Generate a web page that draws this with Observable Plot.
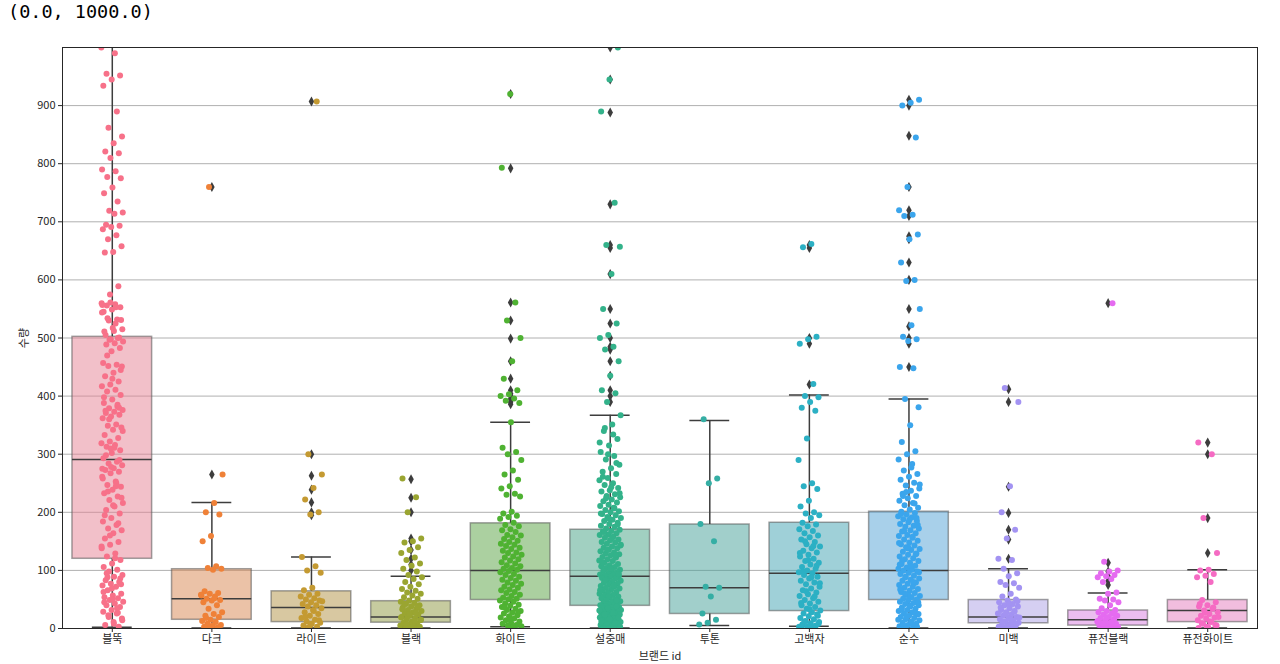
<!DOCTYPE html>
<html><head><meta charset="utf-8">
<script src="https://cdn.jsdelivr.net/npm/d3@7"></script>
<script src="https://cdn.jsdelivr.net/npm/@observablehq/plot@0.6"></script>
<style>
body{margin:0;background:#fff;}
#chart{position:absolute;left:0;top:0;}
#title{position:absolute;left:8px;top:1px;font-family:"DejaVu Sans Mono",monospace;font-size:18.5px;color:#000;white-space:pre;}
</style></head><body>
<div id="chart"></div>
<div id="title">(0.0, 1000.0)</div>
<script>
// categories
const brands = ["블뚝","다크","라이트","블랙","화이트","설중매","투톤","고백자","순수","미백","퓨전블랙","퓨전화이트"];
const colors = ["#f77189","#ef8138","#c49a32","#9aa531","#4fb232","#33b28a","#35aea4","#2cb0c4","#3ba5ec","#a393f2","#e56bf0","#f56bc3"];
// box statistics
const q1s       = [120, 15, 11, 10, 49, 39, 25, 30, 49, 9, 5, 11];
const medians   = [291, 51, 36, 20, 100, 90, 70, 95, 100, 20, 15, 31];
const q3s       = [502, 102, 64, 47, 181, 170, 179, 182, 201, 49, 31, 49];
const whiskLow  = [2, 1, 1, 1, 3, 1, 5, 4, 1, 1, 1, 1];
const whiskHigh = [1020, 217, 123, 90, 355, 367, 358, 402, 395, 103, 61, 101];
// outliers (fliers)
const outliers = [
  [],
  [265, 760],
  [195, 200, 217, 239, 263, 300, 907],
  [100, 110, 120, 135, 150, 155, 200, 225, 257],
  [386, 390, 395, 400, 404, 410, 430, 460, 499, 530, 561, 792, 920],
  [390, 400, 410, 435, 460, 480, 485, 500, 525, 550, 610, 655, 660, 730, 888, 945, 1000],
  [],
  [420, 490, 500, 655, 660],
  [450, 490, 500, 520, 550, 600, 630, 670, 675, 710, 720, 760, 848, 900, 910],
  [120, 153, 170, 199, 244, 390, 412],
  [75, 82, 90, 98, 113, 560],
  [130, 190, 300, 320]
];
// strip points
const points = [
  [1000, 990, 955, 952, 945, 934, 890, 862, 847, 835, 821, 818, 810, 790, 787, 777, 775, 759, 749, 735, 719, 716, 714, 695, 693, 691, 687, 677, 670, 658, 648, 647, 589, 575, 560, 558, 556, 553, 549, 545, 532, 530, 515, 512, 505, 501, 498,
   557, 553, 534, 531, 517, 511, 500, 497, 494, 491, 489, 483, 477, 457, 454, 452, 451, 440, 434, 425, 420, 417, 411, 408, 402, 394, 388, 382, 379, 376, 373, 371, 368, 365, 362, 351, 349, 346, 342, 333, 328, 322, 319, 316, 313, 307, 302, 293, 287, 284, 281, 276, 273, 270, 267, 261, 253, 247, 244, 239, 233, 227, 221, 216, 210, 204, 198, 190, 184, 178, 172, 169, 164, 155, 149, 144, 138, 129, 124, 118, 112, 106, 101, 98, 92, 89, 83, 80, 77, 74, 72, 66, 60, 57, 54, 52, 49, 46, 43, 40, 37, 32, 29, 26, 23, 17, 11, 6, 3,
   561, 544, 525, 470, 445, 430, 398, 385, 360, 340, 311, 298, 290, 278, 258, 250, 236, 225, 212, 195, 181, 160, 141, 121, 95, 86, 69, 63, 35, 20, 14, 8, 375, 380, 310, 275, 245, 88, 76, 50, 45, 27],
  [760, 265, 216, 200, 196, 159, 150, 107, 104, 103, 101, 64, 61, 60, 57, 55, 51, 49, 48, 45, 40, 34, 28, 25, 22, 20, 15, 13, 11, 8, 6, 5, 3, 2, 1, 58, 52, 18],
  [907, 300, 265, 242, 222, 200, 196, 123, 107, 100, 96, 70, 66, 60, 58, 55, 52, 50, 48, 45, 42, 40, 38, 35, 32, 28, 25, 22, 18, 15, 12, 10, 8, 5, 3, 2, 47, 30, 20, 14, 6],
  [258, 226, 200, 155, 150, 148, 140, 135, 130, 122, 118, 112, 108, 103, 98, 92, 88, 85, 80, 76, 72, 68, 65, 62, 60, 57, 54, 51, 48, 46, 44, 42, 40, 38, 36, 34, 32, 30, 28, 26, 24, 22, 20, 18, 16, 14, 12, 10, 8, 6, 5, 4, 3, 2, 1, 33, 27, 21, 15, 9, 43, 37, 25, 19, 13, 7, 3, 2],
  [920, 793, 561, 530, 500, 460, 430, 410, 403, 400, 396, 392, 388,
   355, 311, 304, 300, 290, 272, 265, 256, 245, 241, 232, 230, 227, 201, 198, 194, 192, 189,
   182, 178, 176, 171, 169, 166, 161, 160, 157, 154, 151, 149, 146, 144, 142, 139, 137, 134, 131, 130, 127, 124, 122, 119, 117, 114, 112, 109, 107, 104, 103, 101, 99, 97, 94, 92, 89, 87, 84, 82, 79, 77, 75, 72, 70, 67, 66, 63, 61, 58, 56, 53, 51, 50,
   48, 46, 43, 41, 39, 37, 34, 32, 30, 27, 26, 23, 21, 19, 17, 14, 12, 10, 8, 6, 5, 4, 3, 36, 28, 16],
  [1000, 945, 890, 733, 660, 657, 610, 550, 525, 505, 500, 485, 480, 460, 435, 410, 405, 390,
   367, 351, 340, 326, 315, 304, 297, 291, 282, 276, 270, 266, 259, 255, 250, 247, 242, 238, 236, 231, 228, 226, 222, 219, 217, 213, 211, 208, 204, 202, 200, 197, 195, 192, 190, 187, 185, 182, 180, 177, 175, 172,
   170, 168, 167, 164, 162, 161, 158, 156, 153, 152, 149, 148, 146, 143, 141, 139, 138, 136, 133, 131, 129, 128, 126, 123, 122, 119, 117, 116, 113, 111, 109, 107, 106, 104, 101, 100, 99, 97, 95, 93, 92, 91, 90, 89, 87, 86, 84, 82, 81, 79, 77, 76, 73, 72, 70, 69, 67, 65, 63, 62, 60, 58, 57, 55, 53, 52, 50, 49, 47, 45, 44, 42, 41, 40,
   39, 38, 37, 36, 35, 34, 33, 32, 31, 30, 29, 28, 27, 26, 25, 24, 23, 22, 21, 20, 19, 18, 17, 16, 15, 14, 13, 12, 11, 10, 9, 8, 7, 6, 5, 4, 3, 2, 1,
   38, 35, 31, 27, 24, 19, 16, 12, 9, 6, 3, 2, 1, 48, 56, 66, 74, 83, 94, 103, 114, 127, 135, 144, 157, 166, 179, 189, 198, 207, 224, 233, 243, 261, 285, 300, 320, 334, 345],
  [360, 258, 250, 180, 150, 72, 70, 55, 26, 15, 10, 7],
  [662, 656, 502, 498, 490, 421, 400, 398, 390, 380, 375, 327, 290, 250, 245, 240, 220, 210, 200, 198, 195, 190,
   182, 179, 176, 171, 168, 164, 160, 157, 153, 149, 145, 141, 138, 134, 131, 127, 124, 120, 116, 113, 110, 106, 103, 100, 97, 95, 92, 89, 86, 82, 79, 76, 72, 69, 66, 62, 59, 56, 52, 49, 46, 43, 40, 37, 34, 31, 28, 26, 24, 21, 18, 16, 13, 11, 9, 7, 5, 4, 3, 2, 12, 22, 33, 44, 55, 64, 78, 88, 98, 108, 118, 130, 142, 150, 8, 6, 3],
  [910, 905, 900, 845, 760, 720, 712, 710, 678, 670, 630, 600, 598, 550, 522, 502, 498, 495, 450, 448,
   395, 381, 350, 321, 305, 300, 291, 283, 272, 266, 261, 256, 251, 246, 241, 237, 232, 228, 224, 220, 216, 212, 208, 205, 201,
   199, 196, 193, 191, 188, 185, 183, 180, 177, 175, 172, 169, 167, 164, 161, 159, 156, 153, 151, 148, 145, 143, 140, 137, 135, 132, 129, 127, 124, 121, 119, 116, 113, 111, 108, 105, 103, 101, 100, 98, 96, 94, 91, 89, 86, 84, 82, 79, 77, 75, 72, 70, 68, 65, 63, 61, 58, 56, 54, 51, 50,
   48, 46, 44, 42, 40, 38, 36, 34, 32, 30, 28, 26, 24, 22, 20, 18, 16, 14, 12, 10, 8, 6, 4, 2, 1,
   45, 39, 33, 27, 21, 15, 9, 5, 3, 57, 67, 78, 88, 97, 107, 117, 128, 138, 147, 158, 168, 178, 187, 197, 215, 235, 248, 277, 228, 190, 140, 110, 80, 60, 25],
  [414, 390, 245, 200, 170, 155, 120, 118, 103, 95, 90, 80, 78, 75, 70, 60, 55, 50, 48, 45, 42, 40, 38, 35, 32, 30, 28, 26, 24, 22, 20, 18, 16, 14, 12, 10, 8, 6, 5, 4, 3, 2, 1, 47, 43, 36, 29, 25, 19, 15, 11, 7, 3, 2],
  [560, 115, 100, 98, 95, 92, 90, 88, 85, 80, 62, 60, 51, 50, 48, 45, 40, 35, 32, 30, 28, 26, 24, 22, 20, 18, 16, 14, 12, 10, 9, 8, 7, 6, 5, 4, 3, 2, 1, 25, 19, 13, 11, 6, 4, 2],
  [320, 300, 190, 130, 101, 100, 94, 91, 88, 80, 49, 45, 40, 38, 34, 31, 28, 25, 22, 19, 17, 14, 11, 8, 5, 2, 42, 36, 27, 20, 12, 9, 6, 3, 1]
];
const yTicks = [0, 100, 200, 300, 400, 500, 600, 700, 800, 900];

// box fill: desaturated palette colour (seaborn style)
const desat = c => { const h = d3.hsl(c); h.s *= 0.75; return h.formatHex(); };
// tables built from the arrays
const boxes = brands.map((b, i) => ({i, q1: q1s[i], med: medians[i], q3: q3s[i], lo: whiskLow[i], hi: whiskHigh[i], color: desat(colors[i])}));
const fliers = outliers.flatMap((vals, i) => vals.map(v => ({i, v})));
// deterministic jitter (stripplot style), independent of data values
const strip = points.flatMap((vals, i) => vals.map((v, k) => {
  const u = ((k * 0.6180339887 + i * 0.37) % 1);
  return {i, v, x: i + (u - 0.5) * 0.22, color: colors[i]};
}));

const thinDiamond = {
  draw(context, size) {
    const h = Math.sqrt(size) * 0.95;
    const w = h * 0.55;
    context.moveTo(0, -h);
    context.lineTo(w, 0);
    context.lineTo(0, h);
    context.lineTo(-w, 0);
    context.closePath();
  }
};

const font = "'Noto Sans CJK KR', 'Noto Sans', sans-serif";
const dark = "#3d3d3d";

const chart = Plot.plot({
  width: 1280,
  height: 664,
  marginLeft: 62,
  marginRight: 23,
  marginTop: 47,
  marginBottom: 36,
  style: {fontFamily: font, fontSize: "11px", color: "#262626", background: "#fff"},
  x: {domain: [-0.5, brands.length - 0.5], ticks: d3.range(brands.length), tickFormat: i => brands[i], tickSize: 4, tickPadding: 3, label: "브랜드 id", labelAnchor: "center", labelOffset: 31, labelArrow: "none"},
  y: {domain: [0, 1000], ticks: yTicks, tickSize: 4, tickPadding: 3, label: "수량", labelAnchor: "center", labelOffset: 42, labelArrow: "none"},
  marks: [
    Plot.gridY(yTicks, {stroke: "#b0b0b0", strokeOpacity: 1, strokeWidth: 1}),
    Plot.rectY(boxes, {x1: d => d.i - 0.4, x2: d => d.i + 0.4, y1: "q1", y2: "q3", fill: "color", fillOpacity: 0.5, stroke: "#555", strokeOpacity: 0.55, strokeWidth: 1.5}),
    Plot.ruleX(boxes, {x: "i", y1: "q3", y2: "hi", stroke: dark, strokeWidth: 1.5, clip: true}),
    Plot.ruleX(boxes, {x: "i", y1: "lo", y2: "q1", stroke: dark, strokeWidth: 1.5}),
    Plot.ruleY(boxes, {y: "hi", x1: d => d.i - 0.2, x2: d => d.i + 0.2, stroke: dark, strokeWidth: 1.5, clip: true}),
    Plot.ruleY(boxes, {y: "lo", x1: d => d.i - 0.2, x2: d => d.i + 0.2, stroke: dark, strokeWidth: 1.5}),
    Plot.ruleY(boxes, {y: "med", x1: d => d.i - 0.4, x2: d => d.i + 0.4, stroke: dark, strokeWidth: 1.5}),
    Plot.dot(fliers, {x: "i", y: "v", symbol: thinDiamond, r: 3, fill: dark, stroke: "none", clip: true}),
    Plot.dot(strip, {x: "x", y: "v", r: 3, fill: "color", stroke: "none", clip: true}),
    Plot.frame({stroke: "#262626", strokeWidth: 1})
  ]
});
document.getElementById("chart").appendChild(chart);
</script>
</body></html>
